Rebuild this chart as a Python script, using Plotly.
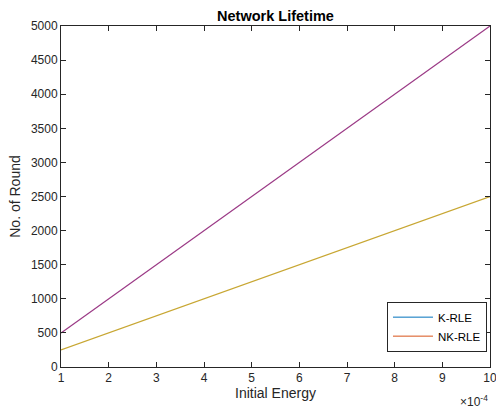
import plotly.graph_objects as go

initial_energy = [0.0001, 0.0002, 0.0003, 0.0004, 0.0005, 0.0006, 0.0007, 0.0008, 0.0009, 0.0010]
x_tick_labels = ["1", "2", "3", "4", "5", "6", "7", "8", "9", "10"]
k_rle_rounds = [500, 1000, 1500, 2000, 2500, 3000, 3500, 4000, 4500, 5000]
nk_rle_rounds = [250, 500, 750, 1000, 1250, 1500, 1750, 2000, 2250, 2500]
y_ticks = [0, 500, 1000, 1500, 2000, 2500, 3000, 3500, 4000, 4500, 5000]

font_family = "Liberation Sans, Arial, sans-serif"
axis_col = "#262626"

fig = go.Figure()
fig.add_trace(go.Scatter(x=initial_energy, y=k_rle_rounds, mode="lines",
                         line=dict(color="#9B3A86", width=1.2), showlegend=False))
fig.add_trace(go.Scatter(x=initial_energy, y=nk_rle_rounds, mode="lines",
                         line=dict(color="#C8A733", width=1.2), showlegend=False))
# legend entries (colours as shown in the legend box)
fig.add_trace(go.Scatter(x=[None], y=[None], mode="lines", name="K-RLE",
                         line=dict(color="#0072BD", width=1)))
fig.add_trace(go.Scatter(x=[None], y=[None], mode="lines", name="NK-RLE",
                         line=dict(color="#D95319", width=1)))

axis_common = dict(showline=True, linecolor=axis_col, linewidth=1, mirror="ticks",
                   ticks="inside", ticklen=5, tickcolor=axis_col, showgrid=False,
                   zeroline=False, ticklabeloverflow="allow", automargin=False,
                   tickfont=dict(size=12, color=axis_col, family=font_family))

x_lo = min(initial_energy)
x_hi = max(initial_energy)
pad = (x_hi - x_lo) * 1e-6

fig.update_layout(
    width=496, height=412,
    margin=dict(l=61, r=6, t=26, b=45),
    paper_bgcolor="white", plot_bgcolor="white",
    font=dict(family=font_family, color=axis_col),
    title=dict(text="<b>Network Lifetime</b>", x=0.5, xanchor="center",
               xref="paper", y=1, yref="paper", yanchor="bottom", pad=dict(b=5),
               font=dict(size=14.5, color="black", family=font_family)),
    xaxis=dict(range=[x_lo - pad, x_hi + pad], tickvals=initial_energy, ticktext=x_tick_labels,
               title=dict(text="Initial Energy", font=dict(size=14, color=axis_col), standoff=3),
               **axis_common),
    yaxis=dict(range=[0, 5000], tickvals=y_ticks,
               title=dict(text="No. of Round", font=dict(size=14, color=axis_col), standoff=6),
               **axis_common),
    legend=dict(x=0.993, y=0.045, xanchor="right", yanchor="bottom",
                bordercolor=axis_col, borderwidth=1, bgcolor="white",
                font=dict(size=11.5, color="black", family=font_family),
                tracegroupgap=0, itemwidth=40),
    annotations=[dict(text="×10<sup>-4</sup>", xref="paper", yref="paper",
                      x=1.0, y=-0.07, xanchor="right", yanchor="top", showarrow=False,
                      font=dict(size=12, color=axis_col, family=font_family))],
)

fig.write_html("out.html")
